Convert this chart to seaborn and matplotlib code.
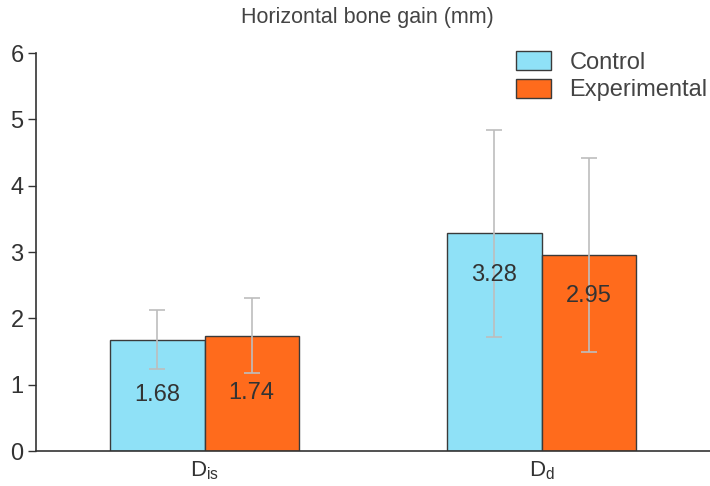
import numpy as np
import pandas as pd
import matplotlib
matplotlib.use("Agg")
import matplotlib.pyplot as plt
import seaborn as sns

# data
sites = ["D$_{is}$", "D$_{d}$"]
groups = ["Control", "Experimental"]
control_mean = [1.68, 3.28]
experimental_mean = [1.74, 2.95]
control_sd = [0.45, 1.56]
experimental_sd = [0.56, 1.46]
y_ticks = [0, 1, 2, 3, 4, 5, 6]

palette = {"Control": "#8fe1f7", "Experimental": "#ff6b1c"}

sns.set_style("white")
plt.rcParams["font.family"] = ["Liberation Sans", "DejaVu Sans"]
plt.rcParams["mathtext.fontset"] = "custom"
plt.rcParams["mathtext.rm"] = "Liberation Sans"
plt.rcParams["mathtext.it"] = "Liberation Sans"

df = pd.DataFrame({
    "site": sites * 2,
    "group": [groups[0]] * 2 + [groups[1]] * 2,
    "mean": control_mean + experimental_mean,
    "sd": control_sd + experimental_sd,
})

fig = plt.figure(figsize=(7.1, 4.86), dpi=100)
ax = fig.add_axes([36 / 710, 1 - 451 / 486, 1 - 36 / 710, (451 - 53) / 486])

sns.barplot(data=df, x="site", y="mean", hue="group", order=sites, hue_order=groups,
            palette=palette, width=0.56, gap=0, edgecolor="#3a3a3a", linewidth=1.0,
            errorbar=None, saturation=1, ax=ax, zorder=2)

# error bars and value labels, matched to bar patches
for container, g in zip(ax.containers, groups):
    sub = df[df["group"] == g].set_index("site").loc[sites]
    for bar, m, s in zip(container.patches, sub["mean"], sub["sd"]):
        cx = bar.get_x() + bar.get_width() / 2
        ax.errorbar(cx, m, yerr=s, fmt="none", ecolor="#bdbdbd", elinewidth=1.2,
                    capsize=6, capthick=1.2, zorder=3)
        label_y = m / 2 if m < 2 else m - 0.62
        ax.text(cx, label_y, f"{m:.2f}", ha="center", va="center",
                fontsize=17, color="#333333", zorder=4)

ax.set_ylim(0, 6)
ax.set_xlim(-0.5, 1.5)
ax.set_yticks(y_ticks)
ax.set_xticks([0, 1])
ax.set_xticklabels(sites)
ax.set_xticks([0.5], minor=True)
ax.tick_params(axis="x", which="major", length=0, pad=6, labelsize=16, colors="#333333")
ax.tick_params(axis="x", which="minor", length=6, width=1, color="#333333", direction="out")
ax.tick_params(axis="y", length=6, width=1, color="#333333", direction="out", pad=3,
               labelsize=17, labelcolor="#333333", left=True)
ax.set_xlabel("")
ax.set_ylabel("")
sns.despine(ax=ax)
for sp in ["left", "bottom"]:
    ax.spines[sp].set_color("#333333")
    ax.spines[sp].set_linewidth(1.2)

fig.text(367 / 710, 1 - 18 / 486, "Horizontal bone gain (mm)", ha="center", va="center",
         fontsize=15.5, color="#444444")

ax.legend(loc="upper right", bbox_to_anchor=(1.0, 1.01), frameon=False, fontsize=17,
          handlelength=1.45, handleheight=0.85, handletextpad=0.8, labelspacing=0.2,
          borderaxespad=0, borderpad=0.1, labelcolor="#444444")

fig.savefig("out.png", dpi=100)
